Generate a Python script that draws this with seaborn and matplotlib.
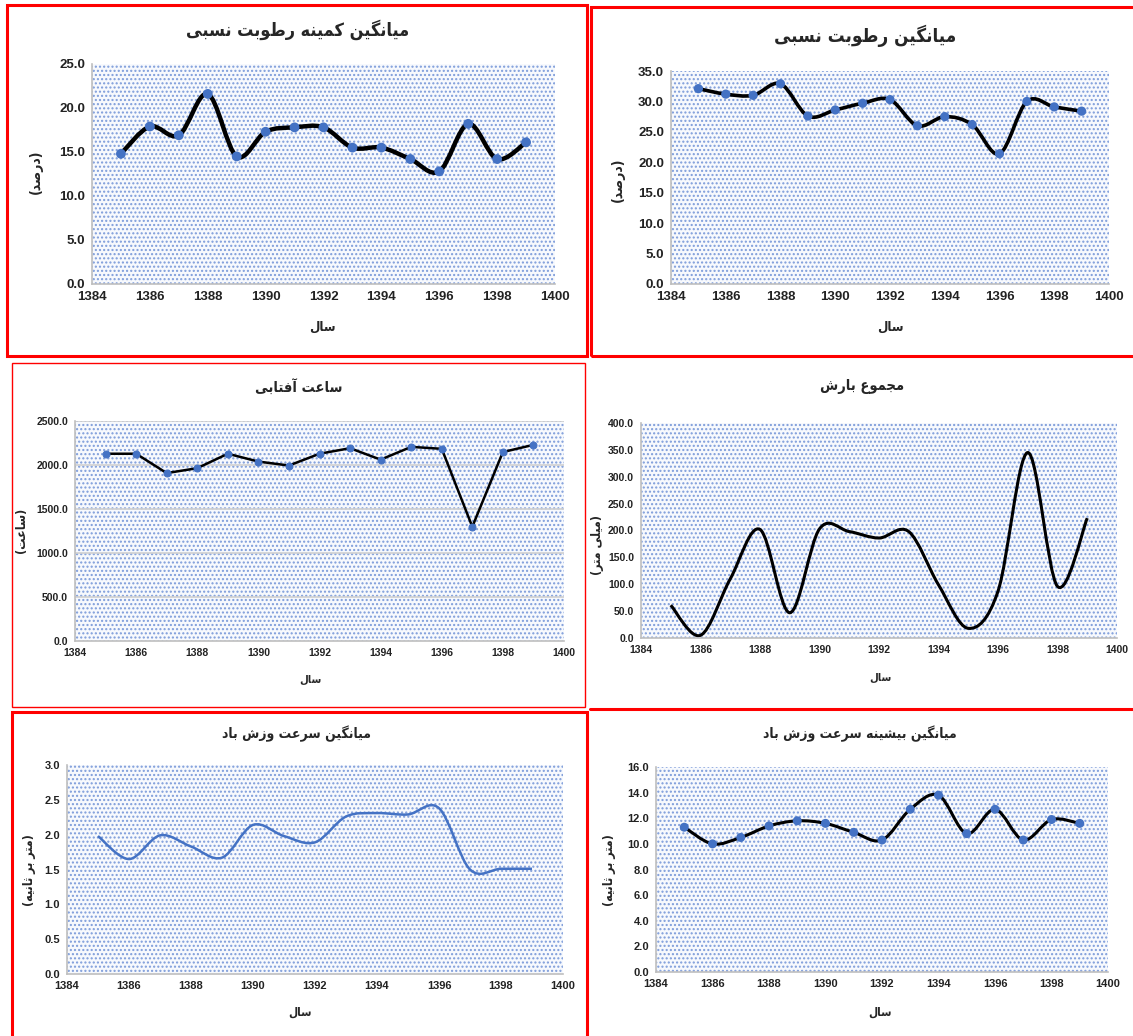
import matplotlib
matplotlib.use("Agg")
import matplotlib.pyplot as plt
import seaborn as sns
import numpy as np
import pandas as pd
from matplotlib.path import Path
from matplotlib.patches import PathPatch, Rectangle
from matplotlib.lines import Line2D

# ---- data ----
years = list(range(1385, 1400))
min_rh = [14.8, 17.9, 16.9, 21.6, 14.5, 17.3, 17.8, 17.8, 15.5, 15.5, 14.2, 12.8, 18.2, 14.2, 16.1]
mean_rh = [32.1, 31.2, 31.0, 32.9, 27.6, 28.6, 29.7, 30.3, 26.0, 27.5, 26.2, 21.4, 30.0, 29.1, 28.4]
sunshine = [2128, 2128, 1908, 1964, 2128, 2039, 1994, 2128, 2191, 2061, 2206, 2184, 1298, 2147, 2229]
rain = [61, 5, 110, 202, 47, 203, 198, 186, 198, 99, 18, 87, 345, 96, 223]
wind = [1.98, 1.65, 1.99, 1.83, 1.67, 2.14, 1.98, 1.89, 2.26, 2.31, 2.29, 2.38, 1.50, 1.51, 1.51]
max_wind = [11.3, 10.0, 10.5, 11.4, 11.8, 11.6, 10.9, 10.3, 12.7, 13.8, 10.8, 12.7, 10.3, 11.9, 11.6]

titles = [
    "میانگین کمینه رطوبت نسبی",
    "میانگین رطوبت نسبی",
    "ساعت آفتابی",
    "مجموع بارش",
    "میانگین سرعت وزش باد",
    "میانگین بیشینه سرعت وزش باد",
]
ylabels = ["(درصد)", "(درصد)", "(ساعت)", "(میلی متر)", "(متر بر ثانیه)", "(متر بر ثانیه)"]
xlabel = "سال"

BLUE = "#4472C4"

# ---- minimal Persian shaping (matplotlib has no RTL/joining support) ----
# letter: (isolated, final, initial, medial); None initial = right-joining only
FORMS = {
    "ا": ("\uFE8D", "\uFE8E", None, None),
    "آ": ("\uFE81", "\uFE82", None, None),
    "ب": ("\uFE8F", "\uFE90", "\uFE91", "\uFE92"),
    "ت": ("\uFE95", "\uFE96", "\uFE97", "\uFE98"),
    "ث": ("\uFE99", "\uFE9A", "\uFE9B", "\uFE9C"),
    "ج": ("\uFE9D", "\uFE9E", "\uFE9F", "\uFEA0"),
    "د": ("\uFEA9", "\uFEAA", None, None),
    "ر": ("\uFEAD", "\uFEAE", None, None),
    "ز": ("\uFEAF", "\uFEB0", None, None),
    "س": ("\uFEB1", "\uFEB2", "\uFEB3", "\uFEB4"),
    "ش": ("\uFEB5", "\uFEB6", "\uFEB7", "\uFEB8"),
    "ص": ("\uFEB9", "\uFEBA", "\uFEBB", "\uFEBC"),
    "ط": ("\uFEC1", "\uFEC2", "\uFEC3", "\uFEC4"),
    "ع": ("\uFEC9", "\uFECA", "\uFECB", "\uFECC"),
    "ف": ("\uFED1", "\uFED2", "\uFED3", "\uFED4"),
    "ل": ("\uFEDD", "\uFEDE", "\uFEDF", "\uFEE0"),
    "م": ("\uFEE1", "\uFEE2", "\uFEE3", "\uFEE4"),
    "ن": ("\uFEE5", "\uFEE6", "\uFEE7", "\uFEE8"),
    "ه": ("\uFEE9", "\uFEEA", "\uFEEB", "\uFEEC"),
    "و": ("\uFEED", "\uFEEE", None, None),
    "ک": ("\uFB8E", "\uFB8F", "\uFB90", "\uFB91"),
    "گ": ("\uFB92", "\uFB93", "\uFB94", "\uFB95"),
    "ی": ("\uFBFC", "\uFBFD", "\uFBFE", "\uFBFF"),
}
MIRROR = {"(": ")", ")": "("}


def fa(text):
    out = []
    for i, c in enumerate(text):
        if c not in FORMS:
            out.append(c)
            continue
        prev = text[i - 1] if i > 0 else None
        nxt = text[i + 1] if i + 1 < len(text) else None
        jp = prev in FORMS and FORMS[prev][2] is not None
        jn = nxt in FORMS and FORMS[c][2] is not None
        iso, fin, ini, med = FORMS[c]
        out.append(med if jp and jn else fin if jp else ini if jn else iso)
    return "".join(MIRROR.get(c, c) for c in reversed(out))


def smooth_path(x, y):
    """Excel-style smoothed line as cubic bezier segments through the points."""
    pts = np.column_stack([x, y]).astype(float)
    verts, codes = [pts[0]], [Path.MOVETO]
    n = len(pts)
    for i in range(n - 1):
        p0 = pts[i - 1] if i > 0 else pts[i]
        p1, p2 = pts[i], pts[i + 1]
        p3 = pts[i + 2] if i + 2 < n else pts[i + 1]
        verts += [p1 + (p2 - p0) / 6, p2 - (p3 - p1) / 6, p2]
        codes += [Path.CURVE4] * 3
    return Path(verts, codes)


sns.set_theme(style="white")
plt.rcParams["font.family"] = ["Liberation Sans", "DejaVu Sans"]
plt.rcParams["hatch.linewidth"] = 1.0

W, H = 1133, 1036
fig = plt.figure(figsize=(W / 100, H / 100), dpi=100)
fig.patch.set_facecolor("white")


def px_axes(l, t, r, b):
    return fig.add_axes([l / W, 1 - b / H, (r - l) / W, (b - t) / H])


def style_axes(ax, ymax, ystep, size, grid=False):
    ax.set_xlim(1384, 1400)
    ax.set_ylim(0, ymax)
    xt = list(range(1384, 1401, 2))
    yt = list(np.arange(0, ymax + ystep / 2, ystep))
    ax.set_xticks(xt, [str(v) for v in xt], fontsize=size, fontweight="bold")
    ax.set_yticks(yt, [f"{v:.1f}" for v in yt], fontsize=size, fontweight="bold")
    ax.tick_params(length=0, pad=5, colors="#222222")
    for s in ["top", "right"]:
        ax.spines[s].set_visible(False)
    for s in ["left", "bottom"]:
        ax.spines[s].set_color("#BFBFBF")
        ax.spines[s].set_linewidth(1.2)
    ax.set_facecolor("#F7F9FD")
    ax.add_patch(Rectangle((0, 0), 1, 1, transform=ax.transAxes, facecolor="none",
                           edgecolor="#7D9CDA", hatch="....", linewidth=0, zorder=0.5))
    if grid:
        for v in yt[1:]:
            ax.axhline(v, color="#D0D0D0", lw=1.2, zorder=0.6)


df = pd.DataFrame({"year": years, "min_rh": min_rh, "mean_rh": mean_rh, "sunshine": sunshine,
                   "rain": rain, "wind": wind, "max_wind": max_wind})

fa_text = dict(fontweight="bold", ha="center", va="center", family="DejaVu Sans",
               fontstretch="condensed")

# panel 1: min relative humidity
ax1 = px_axes(92, 64, 555, 284)
style_axes(ax1, 25, 5, 9.5)
ax1.add_patch(PathPatch(smooth_path(years, min_rh), fill=False, color="black", lw=3.2, zorder=2))
sns.scatterplot(data=df, x="year", y="min_rh", ax=ax1, color=BLUE, s=50, edgecolor="none", zorder=3)

# panel 2: mean relative humidity
ax2 = px_axes(671, 71, 1109, 284)
style_axes(ax2, 35, 5, 9.5)
ax2.add_patch(PathPatch(smooth_path(years, mean_rh), fill=False, color="black", lw=2.6, zorder=2))
sns.scatterplot(data=df, x="year", y="mean_rh", ax=ax2, color=BLUE, s=44, edgecolor="none", zorder=3)

# panel 3: sunshine hours (straight segments)
ax3 = px_axes(75, 421, 564, 641)
style_axes(ax3, 2500, 500, 7.5, grid=True)
sns.lineplot(data=df, x="year", y="sunshine", ax=ax3, color="black", lw=1.8, zorder=2,
             marker="o", markersize=5, markerfacecolor=BLUE, markeredgecolor=BLUE)

# panel 4: total precipitation
ax4 = px_axes(641, 423, 1117, 638)
style_axes(ax4, 400, 50, 7.5)
ax4.add_patch(PathPatch(smooth_path(years, rain), fill=False, color="black", lw=2.2, zorder=2))

# panel 5: mean wind speed
ax5 = px_axes(67, 765, 563, 974)
style_axes(ax5, 3.0, 0.5, 8)
ax5.add_patch(PathPatch(smooth_path(years, wind), fill=False, color=BLUE, lw=1.8, zorder=2))

# panel 6: mean max wind speed
ax6 = px_axes(656, 767, 1108, 972)
style_axes(ax6, 16, 2, 8)
ax6.add_patch(PathPatch(smooth_path(years, max_wind), fill=False, color="black", lw=2.2, zorder=2))
sns.scatterplot(data=df, x="year", y="max_wind", ax=ax6, color=BLUE, s=42, edgecolor="none", zorder=3)

for ax in (ax1, ax2, ax3, ax4, ax5, ax6):
    ax.set_xlabel("")
    ax.set_ylabel("")

# titles, axis labels
title_pos = [(298, 30, 13), (865, 36, 13.5), (299, 388, 10.5), (862, 387, 10.5), (297, 734, 10), (860, 734, 10)]
ylab_pos = [(36, 172, 10), (618, 180, 10), (22, 530, 9), (598, 545, 9), (29, 870, 9), (609, 870, 9)]
xlab_pos = [(322, 327, 9.5), (890, 327, 9.5), (310, 680, 8), (880, 678, 8), (300, 1012, 8.5), (880, 1012, 8.5)]
for i in range(6):
    x, y, fs = title_pos[i]
    fig.text(x / W, 1 - y / H, fa(titles[i]), fontsize=fs, **fa_text)
    x, y, fs = ylab_pos[i]
    fig.text(x / W, 1 - y / H, fa(ylabels[i]), fontsize=fs, rotation=90, **fa_text)
    x, y, fs = xlab_pos[i]
    fig.text(x / W, 1 - y / H, fa(xlabel), fontsize=fs, **fa_text)

# red frames around the panels
RED = "#FF0000"


def frame(l, t, r, b, lw):
    fig.add_artist(Rectangle((l / W, 1 - b / H), (r - l) / W, (b - t) / H, transform=fig.transFigure,
                             fill=False, edgecolor=RED, lw=lw))


frame(7, 5, 587, 356, 2.2)
frame(591, 7, 1140, 356, 2.2)
frame(12, 363, 585, 707, 1.0)
frame(12, 712, 587, 1045, 2.2)
fig.add_artist(Line2D([590 / W, 1], [1 - 709 / H] * 2, transform=fig.transFigure, color=RED, lw=2.2))

fig.savefig("out.png", dpi=100, facecolor="white")
